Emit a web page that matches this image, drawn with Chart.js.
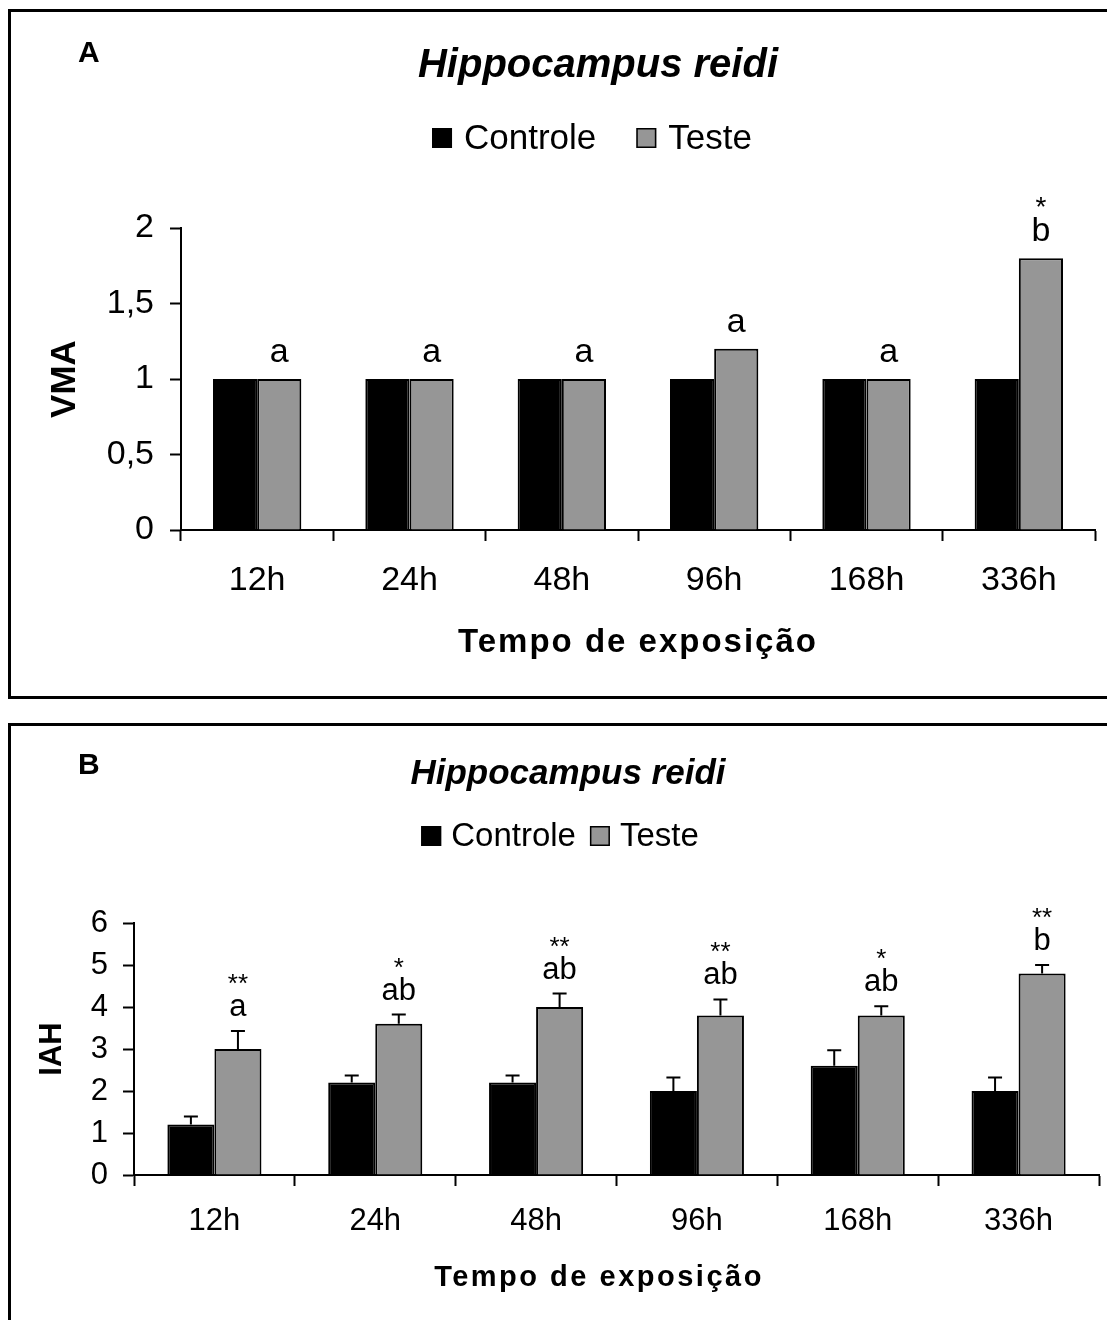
<!DOCTYPE html>
<html lang="pt">
<head>
<meta charset="utf-8">
<title>Hippocampus reidi - VMA e IAH</title>
<script src="https://cdn.jsdelivr.net/npm/chart.js@4.4.1/dist/chart.umd.min.js"></script>
<style>
  html, body { margin: 0; padding: 0; background: #fff; overflow: hidden; }
  body { width: 1107px; height: 1320px; position: relative; }
  canvas { position: absolute; left: 0; }
  #graficoA { top: 0; }
  #graficoB { top: 700px; }
  .moldura { position: absolute; border: 3px solid #000; box-sizing: border-box; pointer-events: none; }
</style>
</head>
<body>
<canvas id="graficoA" width="1107" height="700"></canvas>
<canvas id="graficoB" width="1107" height="620"></canvas>
<div class="moldura" style="left:8px; top:9px; width:1130px; height:690px;"></div>
<div class="moldura" style="left:8px; top:723px; width:1130px; height:640px;"></div>
<script>
// dados
const categorias = ['12h', '24h', '48h', '96h', '168h', '336h'];

// painel A - VMA
const vmaControle = [1, 1, 1, 1, 1, 1];
const vmaTeste = [1, 1, 1, 1.2, 1, 1.8];
const vmaLetras = ['a', 'a', 'a', 'a', 'a', 'b'];
const vmaAsteriscos = ['', '', '', '', '', '*'];
const vmaTicks = [0, 0.5, 1, 1.5, 2];

// painel B - IAH
const iahControle = [1.2, 2.2, 2.2, 2.0, 2.6, 2.0];
const iahControleErro = [0.19, 0.17, 0.17, 0.32, 0.37, 0.32];
const iahTeste = [3.0, 3.6, 4.0, 3.8, 3.8, 4.8];
const iahTesteErro = [0.43, 0.22, 0.32, 0.38, 0.22, 0.2];
const iahLetras = ['a', 'ab', 'ab', 'ab', 'ab', 'b'];
const iahAsteriscos = ['**', '*', '**', '**', '*', '**'];
const iahTicks = [0, 1, 2, 3, 4, 5, 6];

const FAMILIA = "'Liberation Sans', Arial, sans-serif";
Chart.defaults.font.family = FAMILIA;
Chart.defaults.color = '#000';

function fonte(tam, peso = '', estilo = '') {
  return `${estilo} ${peso} ${tam}px ${FAMILIA}`;
}

// letra do painel, título, legenda e título do eixo x (com espaçamento entre letras)
const cabecalho = {
  id: 'cabecalho',
  afterDraw(chart, args, o) {
    const ctx = chart.ctx;
    ctx.save();
    ctx.fillStyle = '#000';
    ctx.textBaseline = 'alphabetic';

    ctx.font = fonte(o.letraTam, 'bold');
    ctx.textAlign = 'left';
    ctx.fillText(o.letra, o.letraX, o.letraY);

    ctx.font = fonte(o.tituloTam, 'bold', 'italic');
    ctx.textAlign = 'center';
    ctx.fillText(o.titulo, o.tituloX, o.tituloY);

    // legenda
    ctx.font = fonte(o.legTam);
    ctx.textAlign = 'left';
    ctx.textBaseline = 'middle';
    const itens = chart.data.datasets.map(d => ({ texto: d.label, cor: d.backgroundColor }));
    const larguras = itens.map(it => 20 + o.legGapCaixa + ctx.measureText(it.texto).width);
    const total = larguras.reduce((a, b) => a + b, 0) + o.legGapItem * (itens.length - 1);
    let x = o.legX - total / 2;
    itens.forEach((it, i) => {
      ctx.fillStyle = it.cor;
      ctx.fillRect(x, o.legY - 10, 20, 20);
      ctx.strokeStyle = '#000';
      ctx.lineWidth = 1.5;
      ctx.strokeRect(x + 0.75, o.legY - 9.25, 18.5, 18.5);
      ctx.fillStyle = '#000';
      ctx.fillText(it.texto, x + 20 + o.legGapCaixa, o.legY + 1);
      x += larguras[i] + o.legGapItem;
    });

    // título do eixo x
    const area = chart.chartArea;
    ctx.font = fonte(o.eixoXTam, 'bold');
    ctx.textAlign = 'center';
    ctx.textBaseline = 'alphabetic';
    ctx.letterSpacing = o.espaco + 'px';
    ctx.fillText(o.eixoX, o.eixoXCentro || (area.left + area.right) / 2, o.eixoXY);
    ctx.restore();
  }
};

// barras de erro (só para cima) e letras/asteriscos sobre as barras Teste
const barrasErro = {
  id: 'barrasErro',
  afterDatasetsDraw(chart, args, o) {
    const ctx = chart.ctx;
    const y = chart.scales.y;
    ctx.save();
    ctx.strokeStyle = '#000';
    ctx.lineWidth = 2;
    chart.data.datasets.forEach((ds, di) => {
      if (!ds.erro) return;
      chart.getDatasetMeta(di).data.forEach((bar, i) => {
        const y0 = y.getPixelForValue(ds.data[i]);
        const y1 = y.getPixelForValue(ds.data[i] + ds.erro[i]);
        ctx.beginPath();
        ctx.moveTo(bar.x, y0);
        ctx.lineTo(bar.x, y1);
        ctx.moveTo(bar.x - o.capa / 2, y1);
        ctx.lineTo(bar.x + o.capa / 2, y1);
        ctx.stroke();
      });
    });

    const teste = chart.data.datasets[1];
    ctx.fillStyle = '#000';
    ctx.textAlign = 'center';
    ctx.textBaseline = 'alphabetic';
    chart.getDatasetMeta(1).data.forEach((bar, i) => {
      const topo = y.getPixelForValue(teste.data[i] + (teste.erro ? teste.erro[i] : 0));
      const base = topo - o.distLetra;
      ctx.font = fonte(o.letraTam);
      ctx.fillText(o.letras[i], bar.x, base);
      if (o.asteriscos[i]) {
        ctx.font = fonte(o.astTam);
        ctx.fillText(o.asteriscos[i], bar.x, base - o.distAst);
      }
    });
    ctx.restore();
  }
};

function escalas(cfg) {
  return {
    x: {
      grid: { offset: true, drawOnChartArea: false, drawTicks: true, tickLength: 11, tickColor: '#000', tickWidth: 2 },
      border: { color: '#000', width: 2 },
      ticks: { color: '#000', font: { size: cfg.tickTam }, padding: cfg.xPad, maxRotation: 0, autoSkip: false },
      afterFit(s) { s.height = cfg.alturaX; }
    },
    y: {
      min: cfg.ticks[0],
      max: cfg.ticks[cfg.ticks.length - 1],
      afterBuildTicks(s) { s.ticks = cfg.ticks.map(v => ({ value: v })); },
      grid: { drawOnChartArea: false, drawTicks: true, tickLength: 11, tickColor: '#000', tickWidth: 2 },
      border: { color: '#000', width: 2 },
      ticks: {
        color: '#000',
        font: { size: cfg.tickTam },
        padding: cfg.yPad,
        callback: v => String(v).replace('.', ',')
      },
      title: {
        display: true,
        text: cfg.tituloY,
        color: '#000',
        font: { size: cfg.tituloYTam, weight: 'bold' },
        padding: { top: cfg.tituloYPad, bottom: 0 }
      },
      afterFit(s) { s.width = cfg.larguraY; }
    }
  };
}

new Chart(document.getElementById('graficoA'), {
  type: 'bar',
  data: {
    labels: categorias,
    datasets: [
      { label: 'Controle', data: vmaControle, backgroundColor: '#000000', borderColor: '#000', borderWidth: 2 },
      { label: 'Teste', data: vmaTeste, backgroundColor: '#969696', borderColor: '#000', borderWidth: 2 }
    ]
  },
  options: {
    responsive: false,
    animation: false,
    layout: { padding: { top: 228, left: 0, right: 12, bottom: 0 } },
    datasets: { bar: { barPercentage: 1, categoryPercentage: 0.58 } },
    plugins: {
      legend: { display: false },
      tooltip: { enabled: false },
      cabecalho: {
        letra: 'A', letraTam: 30, letraX: 78, letraY: 62,
        titulo: 'Hippocampus reidi', tituloTam: 40, tituloX: 598, tituloY: 77,
        legTam: 35, legX: 592, legY: 138, legGapCaixa: 12, legGapItem: 40,
        eixoX: 'Tempo de exposição', eixoXTam: 33, eixoXY: 652, espaco: 2
      },
      barrasErro: { capa: 14, letras: vmaLetras, asteriscos: vmaAsteriscos, letraTam: 34, astTam: 28, distLetra: 17, distAst: 25 }
    },
    scales: escalas({
      ticks: vmaTicks, tickTam: 34, xPad: 19, yPad: 16, alturaX: 170, larguraY: 181,
      tituloY: 'VMA', tituloYTam: 35, tituloYPad: 44
    })
  },
  plugins: [cabecalho, barrasErro]
});

new Chart(document.getElementById('graficoB'), {
  type: 'bar',
  data: {
    labels: categorias,
    datasets: [
      { label: 'Controle', data: iahControle, erro: iahControleErro, backgroundColor: '#000000', borderColor: '#000', borderWidth: 2 },
      { label: 'Teste', data: iahTeste, erro: iahTesteErro, backgroundColor: '#969696', borderColor: '#000', borderWidth: 2 }
    ]
  },
  options: {
    responsive: false,
    animation: false,
    layout: { padding: { top: 223, left: 0, right: 8, bottom: 0 } },
    datasets: { bar: { barPercentage: 1, categoryPercentage: 0.585 } },
    plugins: {
      legend: { display: false },
      tooltip: { enabled: false },
      cabecalho: {
        letra: 'B', letraTam: 30, letraX: 78, letraY: 74,
        titulo: 'Hippocampus reidi', tituloTam: 35, tituloX: 568, tituloY: 84,
        legTam: 33, legX: 560, legY: 136, legGapCaixa: 10, legGapItem: 14,
        eixoX: 'Tempo de exposição', eixoXTam: 29, eixoXY: 586, eixoXCentro: 599, espaco: 2.5
      },
      barrasErro: { capa: 14, letras: iahLetras, asteriscos: iahAsteriscos, letraTam: 31, astTam: 26, distLetra: 15, distAst: 24 }
    },
    scales: escalas({
      ticks: iahTicks, tickTam: 31, xPad: 17, yPad: 15, alturaX: 145, larguraY: 134,
      tituloY: 'IAH', tituloYTam: 31, tituloYPad: 34
    })
  },
  plugins: [cabecalho, barrasErro]
});
</script>
</body>
</html>
